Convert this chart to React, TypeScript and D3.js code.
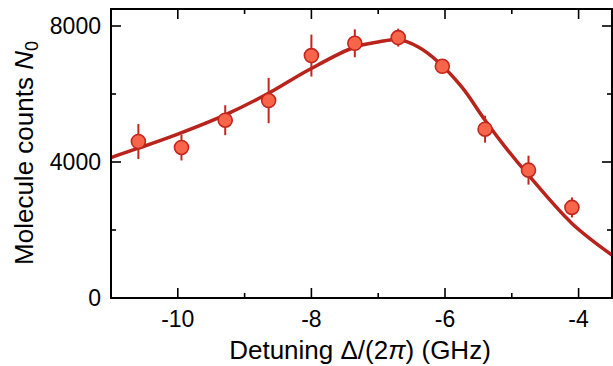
import React from "react";
import * as d3 from "d3";

const pointX = [-10.59, -9.945, -9.29, -8.64, -8.0, -7.35, -6.7, -6.04, -5.4, -4.75, -4.1];
const pointY = [4603, 4427, 5229, 5808, 7130, 7491, 7659, 6815, 4965, 3760, 2664];
const pointErr = [517, 382, 440, 667, 617, 411, 264, 150, 397, 426, 294];

const fitX = [-11, -10.6, -10, -9.3, -8.65, -8.05, -7.35, -7.0, -6.7, -6.4, -6.1, -5.75, -5.4, -5.1, -4.75, -4.1, -3.5];
const fitY = [4133, 4398, 4818, 5376, 6013, 6698, 7382, 7529, 7600, 7382, 6942, 6207, 5229, 4445, 3613, 2194, 1263];

const xMajor = [-10, -8, -6, -4];
const xMinor = [-9, -7, -5];
const yMajor = [0, 4000, 8000];
const yMinor = [2000, 6000];

const W = 613;
const H = 366;
const L = 111, R = 612, T = 9, B = 298;
const FONT = "'Liberation Sans', Arial, Helvetica, sans-serif";

export default function App() {
  const x = d3.scaleLinear().domain([-11, -3.5]).range([L, R]);
  const y = d3.scaleLinear().domain([0, 8500]).range([B, T]);
  const line = d3
    .line<number>()
    .x((_, i) => x(fitX[i]))
    .y((d) => y(d))
    .curve(d3.curveCatmullRom.alpha(0.5));
  const fitPath = line(fitY) || "";
  const major = 10, minor = 5;
  return (
    <svg width={W} height={H} style={{ position: "fixed", left: 0, top: 0, background: "#fff" }}>
      <defs>
        <clipPath id="plot">
          <rect x={L} y={T} width={R - L} height={B - T} />
        </clipPath>
      </defs>
      <rect x={0} y={0} width={W} height={H} fill="#fff" />
      <path d={fitPath} fill="none" stroke="#b8231b" strokeWidth={3.5} clipPath="url(#plot)" />
      {pointX.map((px, i) => (
        <line key={"e" + i} x1={x(px)} x2={x(px)} y1={y(pointY[i] - pointErr[i])} y2={y(pointY[i] + pointErr[i])}
          stroke="#c4261d" strokeWidth={2} />
      ))}
      {pointX.map((px, i) => (
        <circle key={"p" + i} cx={x(px)} cy={y(pointY[i])} r={7} fill="#f8654a" stroke="#c3261d" strokeWidth={1.6} />
      ))}
      {xMajor.map((v) => (
        <g key={"xM" + v}>
          <line x1={x(v)} x2={x(v)} y1={B} y2={B - major} stroke="#000" strokeWidth={1.6} />
          <line x1={x(v)} x2={x(v)} y1={T} y2={T + major} stroke="#000" strokeWidth={1.6} />
          <text x={x(v)} y={327} textAnchor="middle" fontFamily={FONT} fontSize={23} fill="#000">
            {String(v)}
          </text>
        </g>
      ))}
      {xMinor.map((v) => (
        <g key={"xm" + v}>
          <line x1={x(v)} x2={x(v)} y1={B} y2={B - minor} stroke="#000" strokeWidth={1.6} />
          <line x1={x(v)} x2={x(v)} y1={T} y2={T + minor} stroke="#000" strokeWidth={1.6} />
        </g>
      ))}
      {yMajor.map((v) => (
        <g key={"yM" + v}>
          <line x1={L} x2={L + major} y1={y(v)} y2={y(v)} stroke="#000" strokeWidth={1.6} />
          <line x1={R} x2={R - major} y1={y(v)} y2={y(v)} stroke="#000" strokeWidth={1.6} />
          <text x={101} y={y(v)} dy="0.36em" textAnchor="end" fontFamily={FONT} fontSize={23} fill="#000">
            {String(v)}
          </text>
        </g>
      ))}
      {yMinor.map((v) => (
        <g key={"ym" + v}>
          <line x1={L} x2={L + minor} y1={y(v)} y2={y(v)} stroke="#000" strokeWidth={1.6} />
          <line x1={R} x2={R - minor} y1={y(v)} y2={y(v)} stroke="#000" strokeWidth={1.6} />
        </g>
      ))}
      <rect x={L} y={T} width={R - L} height={B - T} fill="none" stroke="#000" strokeWidth={2} />
      <text x={360} y={359} textAnchor="middle" fontFamily={FONT} fontSize={26} fill="#000">
        Detuning Δ/(2<tspan fontStyle="italic">π</tspan>) (GHz)
      </text>
      <text transform={`translate(33,153) rotate(-90)`} textAnchor="middle" fontFamily={FONT} fontSize={26} fill="#000">
        Molecule counts <tspan fontStyle="italic">N</tspan>
        <tspan fontSize={18} dy={5}>0</tspan>
      </text>
    </svg>
  );
}
